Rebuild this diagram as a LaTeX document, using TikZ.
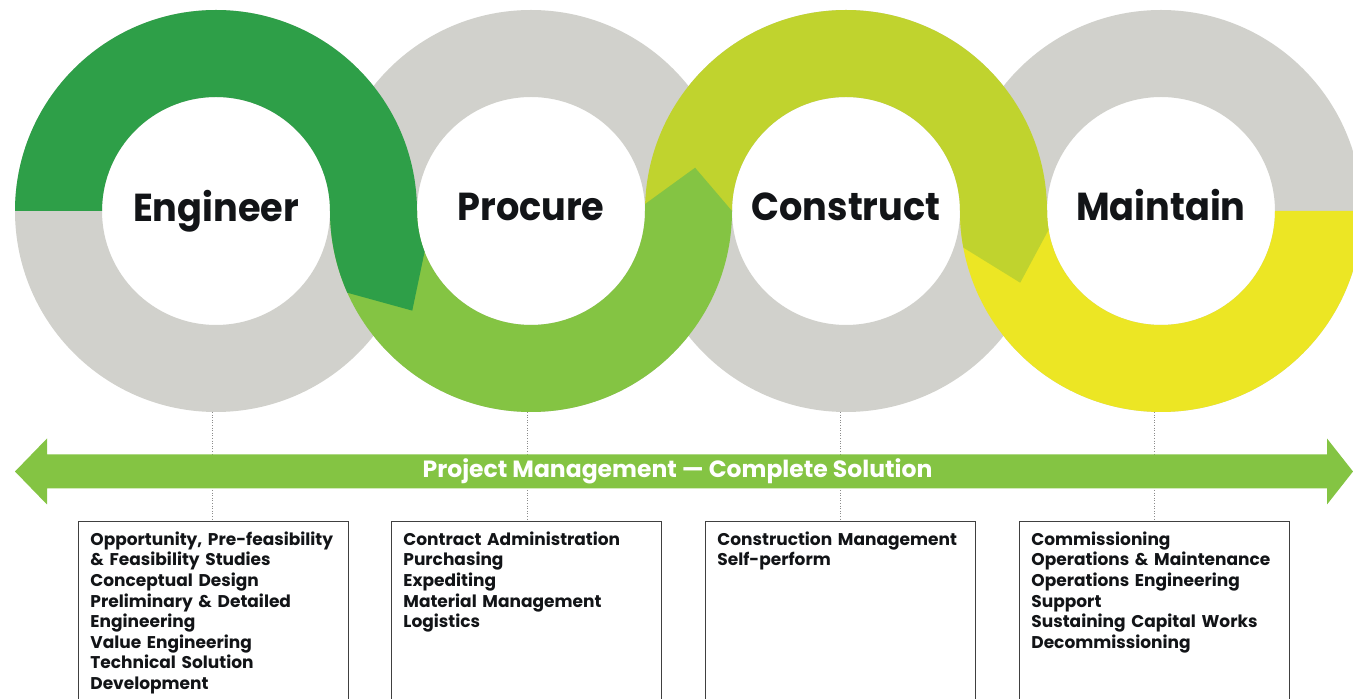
\documentclass[tikz,border=0pt]{standalone}
\usepackage{fontspec}
\setmainfont{Poppins}
\usetikzlibrary{positioning}
\definecolor{ringgrey}{RGB}{209,209,204}
\definecolor{darkgreen}{RGB}{46,159,72}
\definecolor{leafgreen}{RGB}{132,196,67}
\definecolor{limegreen}{RGB}{192,211,46}
\definecolor{sunyellow}{RGB}{236,230,36}
\definecolor{inkblack}{RGB}{18,20,23}

\begin{document}
\begin{tikzpicture}[x=1pt,y=1pt,
    ring-grey/.style={fill=ringgrey, even odd rule},
    phase-label/.style={anchor=base, inner sep=0pt, text=inkblack,
      font=\fontsize{39}{44}\selectfont\bfseries\addfontfeature{FakeStretch=0.94}},
    pm-label/.style={inner sep=0pt, text=white, font=\fontsize{23.5}{28}\selectfont\bfseries},
    task-box/.style={draw=black!75, line width=0.8pt, anchor=north west, text width=246pt,
      inner xsep=12pt, inner ysep=12pt, text height=12pt, text depth=170pt, align=left,
      text=inkblack, font=\fontsize{17}{20.6}\selectfont\bfseries},
    link-line/.style={draw=black!45, dotted, line width=0.6pt}
  ]
  \clip (0,0) rectangle (1353,699);
  \fill[white] (0,0) rectangle (1353,699);

  \foreach \cx in {216,531,846,1161}
    \fill[ring-grey] (\cx,488) circle (201) (\cx,488) circle (114);

  \fill[sunyellow] (960,488) arc[start angle=180, end angle=360, radius=201]
    -- (1275,488) arc[start angle=0, end angle=-180, radius=114] -- cycle;
  \fill[limegreen] (645,488) arc[start angle=180, end angle=0, radius=201]
    arc[start angle=180, end angle=189.5, radius=114]
    -- ([shift={(207:158)}]1161,488) -- ([shift={(190.5:201)}]1161,488)
    arc[start angle=190.5, end angle=180, radius=201]
    arc[start angle=0, end angle=180, radius=114] -- cycle;
  \fill[leafgreen] (330,488) arc[start angle=180, end angle=360, radius=201]
    -- ([shift={(164:157)}]846,488) -- ([shift={(178:201)}]846,488)
    arc[start angle=178, end angle=180, radius=201]
    arc[start angle=0, end angle=-180, radius=114] -- cycle;
  \fill[darkgreen] (15,488) arc[start angle=180, end angle=0, radius=201]
    arc[start angle=180, end angle=201, radius=114]
    -- ([shift={(220:155)}]531,488) -- ([shift={(204:201)}]531,488)
    arc[start angle=204, end angle=180, radius=201]
    arc[start angle=0, end angle=180, radius=114] -- cycle;

  \node[phase-label] (eng) at (216,477) {Engineer};
  \node[phase-label] (proc) at (531,478) {Procure};
  \node[phase-label] (cons) at (846,478) {Construct};
  \node[phase-label] (maint) at (1161,478) {Maintain};

  \node[task-box] (eng-box) at (78,178) {Opportunity, Pre-feasibility\\ \& Feasibility Studies\\ Conceptual Design\\ Preliminary \& Detailed\\ Engineering\\ Value Engineering\\ Technical Solution\\ Development};
  \node[task-box] (proc-box) at (391,178) {Contract Administration\\ Purchasing\\ Expediting\\ Material Management\\ Logistics};
  \node[task-box] (cons-box) at (705,178) {Construction Management\\ Self-perform};
  \node[task-box] (maint-box) at (1019,178) {Commissioning\\ Operations \& Maintenance\\ Operations Engineering\\ Support\\ Sustaining Capital Works\\ Decommissioning};

  \coordinate (eng-foot) at (212,287);
  \coordinate (proc-foot) at (527,287);
  \coordinate (cons-foot) at (840,287);
  \coordinate (maint-foot) at (1154,287);
  \draw[link-line] (eng-foot) -- (eng-foot |- eng-box.north);
  \draw[link-line] (proc-foot) -- (proc-foot |- proc-box.north);
  \draw[link-line] (cons-foot) -- (cons-foot |- cons-box.north);
  \draw[link-line] (maint-foot) -- (maint-foot |- maint-box.north);

  \fill[leafgreen] (15,227.5) -- (47,260.5) -- (47,244.5) -- (1327,244.5) -- (1327,260.5)
    -- (1353,227.5) -- (1327,194.5) -- (1327,210.5) -- (47,210.5) -- (47,194.5) -- cycle;
  \node[pm-label] (pm) at (677.5,227.5) {Project Management — Complete Solution};
\end{tikzpicture}
\end{document}
